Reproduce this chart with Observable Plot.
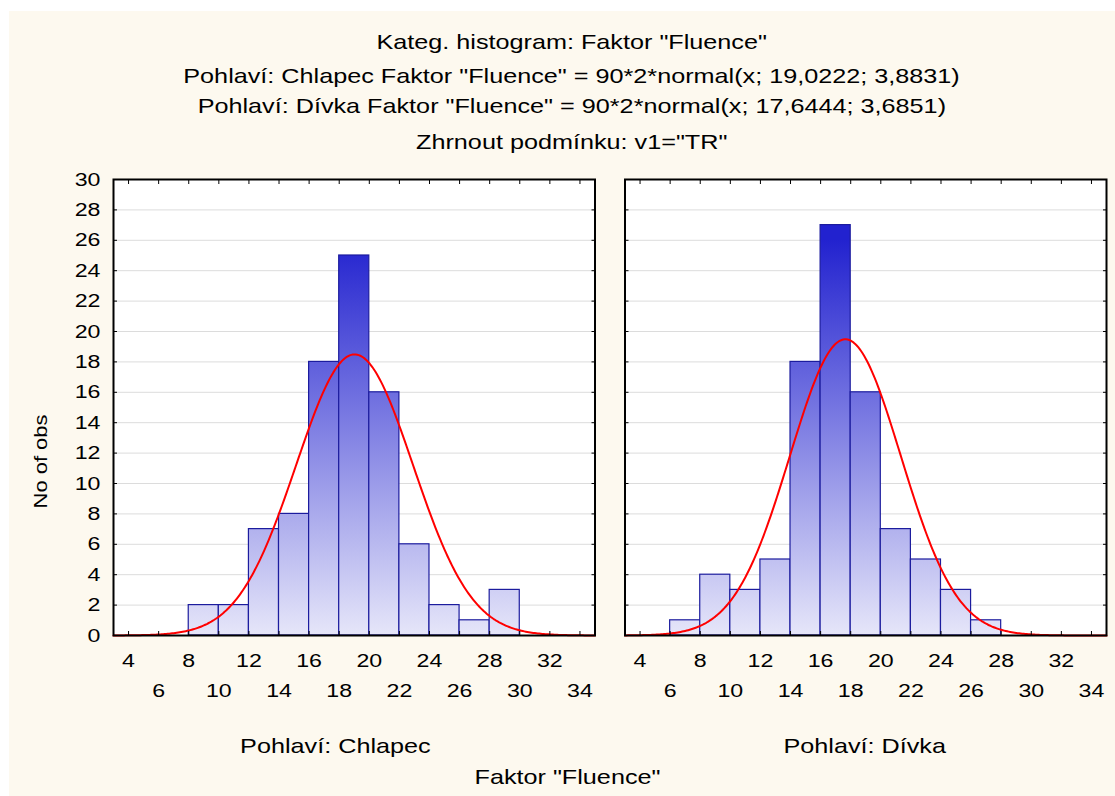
<!DOCTYPE html>
<html>
<head>
<meta charset="utf-8">
<script src="https://cdn.jsdelivr.net/npm/d3@7"></script>
<script src="https://cdn.jsdelivr.net/npm/@observablehq/plot@0.6"></script>
<style>
  html, body { margin: 0; padding: 0; background: #ffffff; }
  #wrap { position: relative; width: 1115px; height: 796px; overflow: hidden;
          font-family: "Liberation Sans", Arial, sans-serif; color: #000; }
  #bg { position: absolute; left: 9px; top: 11px; right: 0; bottom: 0; background: #fdf9ef; }
  .t { position: absolute; width: 1200px; text-align: center; white-space: nowrap;
       font-size: 21px; line-height: 21px; }
  .t span { display: inline-block; transform: scaleX(1.2); transform-origin: 50% 50%; }
  #ylab { position: absolute; width: 300px; text-align: center; white-space: nowrap;
          font-size: 18px; line-height: 20px; left: -109px; top: 451px;
          transform: rotate(-90deg); transform-origin: 50% 50%; }
  #ylab span { display: inline-block; transform: scaleX(1.22); }
  #chart { position: absolute; left: 0; top: 160px; }
</style>
</head>
<body>
<div id="wrap">
  <div id="bg"></div>
  <div class="t" id="t1"><span></span></div>
  <div class="t" id="t2"><span></span></div>
  <div class="t" id="t3"><span></span></div>
  <div class="t" id="t4"><span></span></div>
  <div id="ylab"><span></span></div>
  <div id="chart"></div>
  <div class="t" id="p1"><span></span></div>
  <div class="t" id="p2"><span></span></div>
  <div class="t" id="xlab"><span></span></div>
</div>
<script>
// ---------- data ----------
const titleLines = [
  'Kateg. histogram: Faktor "Fluence"',
  'Pohlaví: Chlapec Faktor "Fluence" = 90*2*normal(x; 19,0222; 3,8831)',
  'Pohlaví: Dívka Faktor "Fluence" = 90*2*normal(x; 17,6444; 3,6851)',
  'Zhrnout podmínku: v1="TR"'
];
const panels = ["Chlapec", "Dívka"];
const panelLabels = ["Pohlaví: Chlapec", "Pohlaví: Dívka"];
const xTitle = 'Faktor "Fluence"';
const yTitle = "No of obs";

const binStarts = [4, 6, 8, 10, 12, 14, 16, 18, 20, 22, 24, 26, 28, 30, 32];
const binWidth = 2;
const chlapecCounts = [0, 0, 2, 2, 7, 8, 18, 25, 16, 6, 2, 1, 3, 0, 0];
const divkaCounts   = [0, 1, 4, 3, 5, 18, 27, 16, 7, 5, 3, 1, 0, 0, 0];

// fitted normal curves as stated in the titles: N*binWidth*normal(x; mean, sd)
const nObs = 90;
const fitMeans = [19.0222, 17.6444];
const fitSDs = [3.8831, 3.6851];

const xTicksTop = [4, 8, 12, 16, 20, 24, 28, 32];
const xTicksBottom = [6, 10, 14, 18, 22, 26, 30, 34];
const xTickMarks = d3.range(4, 35, 2);
const yTicks = d3.range(0, 31, 2);
const xDomain = [3, 35];
const yDomain = [0, 30];

// ---------- tables ----------
const countsByPanel = [chlapecCounts, divkaCounts];
const bars = [];
panels.forEach((p, i) => {
  binStarts.forEach((b, j) => {
    const c = countsByPanel[i][j];
    if (c > 0) bars.push({panel: p, x0: b, x1: b + binWidth, count: c});
  });
});
const curve = [];
panels.forEach((p, i) => {
  const m = fitMeans[i], s = fitSDs[i];
  for (let x = xDomain[0]; x <= xDomain[1] + 1e-9; x += 0.1) {
    const y = nObs * binWidth * Math.exp(-0.5 * ((x - m) / s) ** 2) / (s * Math.sqrt(2 * Math.PI));
    curve.push({panel: p, x, y});
  }
});

// ---------- text placement ----------
function place(id, text, cx, top) {
  const el = document.getElementById(id);
  el.style.left = (cx - 600) + "px";
  el.style.top = top + "px";
  el.querySelector("span").textContent = text;
}
place("t1", titleLines[0], 572, 31);
place("t2", titleLines[1], 572, 65);
place("t3", titleLines[2], 572, 95);
place("t4", titleLines[3], 572, 131);
place("p1", panelLabels[0], 335, 735);
place("p2", panelLabels[1], 865, 735);
place("xlab", xTitle, 567, 766);
document.querySelector("#ylab span").textContent = yTitle;

// ---------- chart ----------
const blank = () => "";
const svg = Plot.plot({
  width: 1115,
  height: 560,
  marginTop: 19,
  marginBottom: 85,
  marginLeft: 113,
  marginRight: 9,
  style: {background: "transparent", fontFamily: "'Liberation Sans', Arial, sans-serif", fontSize: "19px", color: "#000"},
  x: {domain: xDomain, label: null},
  y: {domain: yDomain, label: null},
  fx: {domain: panels, axis: null, paddingInner: 30 / 511.5, paddingOuter: 0, round: false, label: null},
  marks: [
    Plot.frame({fill: "#ffffff", stroke: "none"}),
    Plot.gridY(yTicks.filter(d => d > 0 && d < 30), {stroke: "#dcdcdc", strokeOpacity: 1, strokeWidth: 1, facetAnchor: null}),
    Plot.rectY(bars, {x1: "x0", x2: "x1", y1: 0, y2: "count", fx: "panel",
      fill: "url(#barGrad)", stroke: "#1c1c9e", strokeWidth: 1.2}),
    Plot.line(curve, {x: "x", y: "y", fx: "panel", stroke: "#ff0000", strokeWidth: 2}),
    Plot.frame({stroke: "#000", strokeWidth: 2}),
    Plot.axisX({anchor: "bottom", ticks: xTickMarks, tickSize: -4, tickFormat: blank, label: null, facetAnchor: null}),
    Plot.axisX({anchor: "top", ticks: xTickMarks, tickSize: -4, tickFormat: blank, label: null, facetAnchor: null}),
    Plot.axisY({anchor: "left", ticks: yTicks, tickSize: -4, tickFormat: blank, label: null, facetAnchor: null}),
    Plot.axisY({anchor: "right", ticks: yTicks, tickSize: -4, tickFormat: blank, label: null, facetAnchor: null}),
    Plot.axisX({anchor: "bottom", ticks: xTicksTop, tickSize: 0, tickPadding: 18, label: null, tickFormat: d3.format("d")}),
    Plot.axisX({anchor: "bottom", ticks: xTicksBottom, tickSize: 0, tickPadding: 48, label: null, tickFormat: d3.format("d")}),
    Plot.axisY({anchor: "left", ticks: yTicks, tickSize: 0, tickPadding: 13, label: null, tickFormat: d3.format("d")})
  ]
});

// vertical gradient for the bars, in the chart's own coordinates
const ys = svg.scale("y");
const gy0 = ys.apply(0), gy1 = ys.apply(26);
const defs = document.createElementNS("http://www.w3.org/2000/svg", "defs");
defs.innerHTML = `<linearGradient id="barGrad" gradientUnits="userSpaceOnUse" x1="0" x2="0" y1="${gy0}" y2="${gy1}">
  <stop offset="0" stop-color="#e6e6f9"/><stop offset="1" stop-color="#2222cf"/></linearGradient>`;
svg.insertBefore(defs, svg.firstChild);

// widen tick-label glyphs like the original rendering
svg.querySelectorAll("text").forEach(t => {
  const x = +t.getAttribute("x") || 0, y = +t.getAttribute("y") || 0;
  const tr = t.getAttribute("transform") || "";
  t.setAttribute("transform", `${tr} translate(${x},${y}) scale(1.22,1) translate(${-x},${-y})`);
});

document.getElementById("chart").appendChild(svg);
</script>
</body>
</html>
